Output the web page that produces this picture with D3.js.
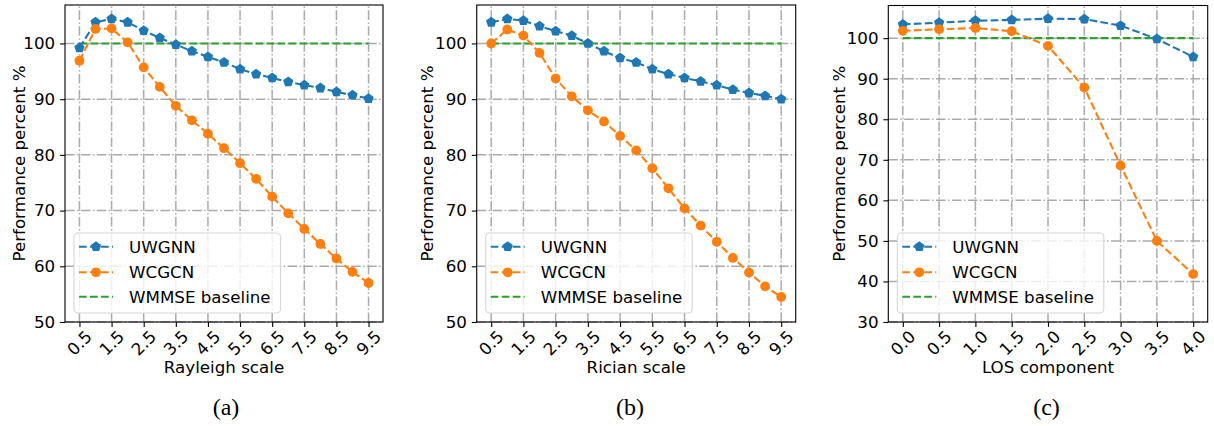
<!DOCTYPE html>
<html>
<head>
<meta charset="utf-8">
<script src="https://cdn.jsdelivr.net/npm/d3@7/dist/d3.min.js"></script>
<style>
  html, body { margin: 0; padding: 0; background: #fff; }
  svg { display: block; font-family: "DejaVu Sans", sans-serif; }
</style>
</head>
<body>
<svg id="chart" width="1214" height="426"></svg>
<script>
// ---------------- DATA ----------------
const rayleighScale = [0.5, 1.0, 1.5, 2.0, 2.5, 3.0, 3.5, 4.0, 4.5, 5.0, 5.5, 6.0, 6.5, 7.0, 7.5, 8.0, 8.5, 9.0, 9.5];
const uwgnnRayleigh = [99.2, 103.8, 104.4, 103.8, 102.3, 101.0, 99.8, 98.6, 97.6, 96.6, 95.4, 94.5, 93.8, 93.1, 92.5, 92.0, 91.3, 90.7, 90.1];
const wcgcnRayleigh = [96.9, 102.6, 102.7, 100.2, 95.7, 92.2, 88.8, 86.2, 83.8, 81.2, 78.5, 75.7, 72.5, 69.5, 66.7, 64.0, 61.4, 59.0, 57.0];
const wmmseRayleigh = [100, 100, 100, 100, 100, 100, 100, 100, 100, 100, 100, 100, 100, 100, 100, 100, 100, 100, 100];

const ricianScale = [0.5, 1.0, 1.5, 2.0, 2.5, 3.0, 3.5, 4.0, 4.5, 5.0, 5.5, 6.0, 6.5, 7.0, 7.5, 8.0, 8.5, 9.0, 9.5];
const uwgnnRician = [103.8, 104.4, 104.1, 103.1, 102.2, 101.4, 100.0, 98.6, 97.4, 96.6, 95.4, 94.5, 93.8, 93.2, 92.5, 91.7, 91.1, 90.6, 90.0];
const wcgcnRician = [100.0, 102.5, 101.4, 98.3, 93.7, 90.5, 88.0, 86.0, 83.4, 80.8, 77.6, 74.0, 70.4, 67.3, 64.4, 61.5, 58.9, 56.4, 54.5];
const wmmseRician = [100, 100, 100, 100, 100, 100, 100, 100, 100, 100, 100, 100, 100, 100, 100, 100, 100, 100, 100];

const losComponent = [0.0, 0.5, 1.0, 1.5, 2.0, 2.5, 3.0, 3.5, 4.0];
const uwgnnLOS = [103.4, 103.8, 104.3, 104.5, 104.8, 104.7, 103.1, 99.8, 95.4];
const wcgcnLOS = [101.8, 102.2, 102.5, 101.7, 98.1, 87.8, 68.6, 50.0, 41.8];
const wmmseLOS = [100, 100, 100, 100, 100, 100, 100, 100, 100];

const xTicksScale = [0.5, 1.5, 2.5, 3.5, 4.5, 5.5, 6.5, 7.5, 8.5, 9.5];
const xTickLabelsScale = ["0.5", "1.5", "2.5", "3.5", "4.5", "5.5", "6.5", "7.5", "8.5", "9.5"];
const xTicksLOS = [0.0, 0.5, 1.0, 1.5, 2.0, 2.5, 3.0, 3.5, 4.0];
const xTickLabelsLOS = ["0.0", "0.5", "1.0", "1.5", "2.0", "2.5", "3.0", "3.5", "4.0"];
const yTicksScale = [50, 60, 70, 80, 90, 100];
const yTicksLOS = [30, 40, 50, 60, 70, 80, 90, 100];

const seriesNames = ["UWGNN", "WCGCN", "WMMSE baseline"];
const xLabels = ["Rayleigh scale", "Rician scale", "LOS component"];
const yLabel = "Performance percent %";
const captions = ["(a)", "(b)", "(c)"];

// ---------------- LAYOUT ----------------
const colors = { uw: "#1f77b4", wc: "#ff7f0e", base: "#2ca02c" };
const FS = 16.7;
const panels = [
  { left: 65, right: 383, top: 5, bottom: 322, xDomain: [0.05, 9.95], yDomain: [50, 106.9],
    xs: rayleighScale, uw: uwgnnRayleigh, wc: wcgcnRayleigh, base: wmmseRayleigh,
    xTicks: xTicksScale, xTickLabels: xTickLabelsScale, yTicks: yTicksScale,
    xLabel: xLabels[0], caption: captions[0], yLabelX: 18.5, captionX: 226 },
  { left: 476.7, right: 795.7, top: 5, bottom: 322, xDomain: [0.05, 9.95], yDomain: [50, 106.9],
    xs: ricianScale, uw: uwgnnRician, wc: wcgcnRician, base: wmmseRician,
    xTicks: xTicksScale, xTickLabels: xTickLabelsScale, yTicks: yTicksScale,
    xLabel: xLabels[1], caption: captions[1], yLabelX: 427, captionX: 630 },
  { left: 888.3, right: 1207.7, top: 5.5, bottom: 322, xDomain: [-0.2, 4.2], yDomain: [30, 108.05],
    xs: losComponent, uw: uwgnnLOS, wc: wcgcnLOS, base: wmmseLOS,
    xTicks: xTicksLOS, xTickLabels: xTickLabelsLOS, yTicks: yTicksLOS,
    xLabel: xLabels[2], caption: captions[2], yLabelX: 838.5, captionX: 1046.5 }
];

const svg = d3.select("#chart");

function pentagonPath(r) {
  const pts = [];
  for (let i = 0; i < 5; i++) {
    const a = -Math.PI / 2 + i * 2 * Math.PI / 5;
    pts.push([r * Math.cos(a), r * Math.sin(a)]);
  }
  return "M" + pts.map(p => p[0].toFixed(2) + "," + p[1].toFixed(2)).join("L") + "Z";
}
const PENT = pentagonPath(5.4);
const CIRC_R = 4.9;
const LW = 2.08;
const DASH = "7.7,3.3";
const GRID_DASH = "9.6,2.4,1.5,2.4";
const GRID_COLOR = "#aaaaaa";
const GRID_W = 1.5;

panels.forEach((p, pi) => {
  const g = svg.append("g");
  const x = d3.scaleLinear().domain(p.xDomain).range([p.left, p.right]);
  const y = d3.scaleLinear().domain(p.yDomain).range([p.bottom, p.top]);

  const clipId = "clip" + pi;
  g.append("clipPath").attr("id", clipId).append("rect")
    .attr("x", p.left).attr("y", p.top).attr("width", p.right - p.left).attr("height", p.bottom - p.top);

  // grid
  const grid = g.append("g");
  grid.selectAll("line.v").data(p.xTicks).join("line")
    .attr("x1", d => x(d)).attr("x2", d => x(d)).attr("y1", p.bottom).attr("y2", p.top)
    .attr("stroke", GRID_COLOR).attr("stroke-width", GRID_W).attr("stroke-dasharray", GRID_DASH);
  grid.selectAll("line.h").data(p.yTicks).join("line")
    .attr("x1", p.left).attr("x2", p.right).attr("y1", d => y(d)).attr("y2", d => y(d))
    .attr("stroke", GRID_COLOR).attr("stroke-width", GRID_W).attr("stroke-dasharray", GRID_DASH);

  const plot = g.append("g").attr("clip-path", `url(#${clipId})`);
  const line = d3.line().x(d => x(d[0])).y(d => y(d[1]));

  // baseline
  plot.append("path").datum(p.xs.map((v, i) => [v, p.base[i]]))
    .attr("d", line).attr("fill", "none").attr("stroke", colors.base)
    .attr("stroke-width", LW).attr("stroke-dasharray", DASH);

  // UWGNN
  const uwData = p.xs.map((v, i) => [v, p.uw[i]]);
  plot.append("path").datum(uwData).attr("d", line).attr("fill", "none")
    .attr("stroke", colors.uw).attr("stroke-width", LW).attr("stroke-dasharray", DASH);
  plot.selectAll("path.uwm").data(uwData).join("path").attr("class", "uwm")
    .attr("d", PENT).attr("transform", d => `translate(${x(d[0])},${y(d[1])})`)
    .attr("fill", colors.uw);

  // WCGCN
  const wcData = p.xs.map((v, i) => [v, p.wc[i]]);
  plot.append("path").datum(wcData).attr("d", line).attr("fill", "none")
    .attr("stroke", colors.wc).attr("stroke-width", LW).attr("stroke-dasharray", DASH);
  plot.selectAll("circle.wcm").data(wcData).join("circle").attr("class", "wcm")
    .attr("cx", d => x(d[0])).attr("cy", d => y(d[1])).attr("r", CIRC_R)
    .attr("fill", colors.wc);

  // frame
  g.append("rect").attr("x", p.left).attr("y", p.top)
    .attr("width", p.right - p.left).attr("height", p.bottom - p.top)
    .attr("fill", "none").attr("stroke", "#000").attr("stroke-width", 1.1);

  // y axis
  const yAxis = g.append("g").attr("transform", `translate(${p.left},0)`)
    .call(d3.axisLeft(y).tickValues(p.yTicks).tickSize(4.9).tickPadding(4.9).tickFormat(d3.format("d")));
  yAxis.select(".domain").remove();
  yAxis.selectAll("text").attr("font-size", FS).style("font-family", "'DejaVu Sans', sans-serif").attr("fill", "#000");
  yAxis.selectAll("line").attr("stroke", "#000").attr("stroke-width", 1.1);

  // x axis ticks
  const xAxis = g.append("g").attr("transform", `translate(0,${p.bottom})`)
    .call(d3.axisBottom(x).tickValues(p.xTicks).tickSize(4.9).tickFormat(""));
  xAxis.select(".domain").remove();
  xAxis.selectAll("line").attr("stroke", "#000").attr("stroke-width", 1.1);

  // rotated x tick labels (bbox centered on tick)
  const lbls = g.append("g");
  p.xTicks.forEach((t, i) => {
    const tx = lbls.append("text").text(p.xTickLabels[i])
      .attr("font-size", FS).attr("text-anchor", "middle").attr("dominant-baseline", "central");
    const len = tx.node().getComputedTextLength();
    const h = FS * 0.75;
    const half = (len + h) * Math.SQRT1_2 / 2;
    const cx = x(t), cy = p.bottom + 3.5 + 3.5 + half;
    tx.attr("transform", `translate(${cx},${cy}) rotate(-45)`);
  });

  // x label
  g.append("text").text(p.xLabel).attr("x", (p.left + p.right) / 2).attr("y", 373)
    .attr("text-anchor", "middle").attr("font-size", FS);

  // y label
  g.append("text").text(yLabel)
    .attr("transform", `translate(${p.yLabelX},${(p.top + p.bottom) / 2}) rotate(-90)`)
    .attr("text-anchor", "middle").attr("dominant-baseline", "central").attr("font-size", FS);

  // caption
  g.append("text").text(p.caption).attr("x", p.captionX).attr("y", 415)
    .attr("text-anchor", "middle").attr("font-size", 24)
    .style("font-family", "'Liberation Serif', 'Times New Roman', serif");

  // legend
  const lx = p.left + 9, ly = 233, lw = 206.5, lh = 80;
  const leg = g.append("g");
  leg.append("rect").attr("x", lx).attr("y", ly).attr("width", lw).attr("height", lh)
    .attr("rx", 4).attr("fill", "#fff").attr("fill-opacity", 0.8)
    .attr("stroke", "#d6d6d6").attr("stroke-width", 1.1);
  const rowsY = [ly + 13.7, ly + 39.3, ly + 63.7];
  const hx1 = lx + 5, hx2 = lx + 39, hmid = (hx1 + hx2) / 2;
  const styles = [colors.uw, colors.wc, colors.base];
  seriesNames.forEach((name, i) => {
    leg.append("line").attr("x1", hx1).attr("x2", hx2).attr("y1", rowsY[i]).attr("y2", rowsY[i])
      .attr("stroke", styles[i]).attr("stroke-width", LW).attr("stroke-dasharray", DASH);
    if (i === 0) {
      leg.append("path").attr("d", PENT).attr("transform", `translate(${hmid},${rowsY[i]})`).attr("fill", colors.uw);
    } else if (i === 1) {
      leg.append("circle").attr("cx", hmid).attr("cy", rowsY[i]).attr("r", CIRC_R).attr("fill", colors.wc);
    }
    leg.append("text").text(name).attr("x", lx + 55).attr("y", rowsY[i])
      .attr("dominant-baseline", "central").attr("font-size", FS);
  });
});
</script>
</body>
</html>
